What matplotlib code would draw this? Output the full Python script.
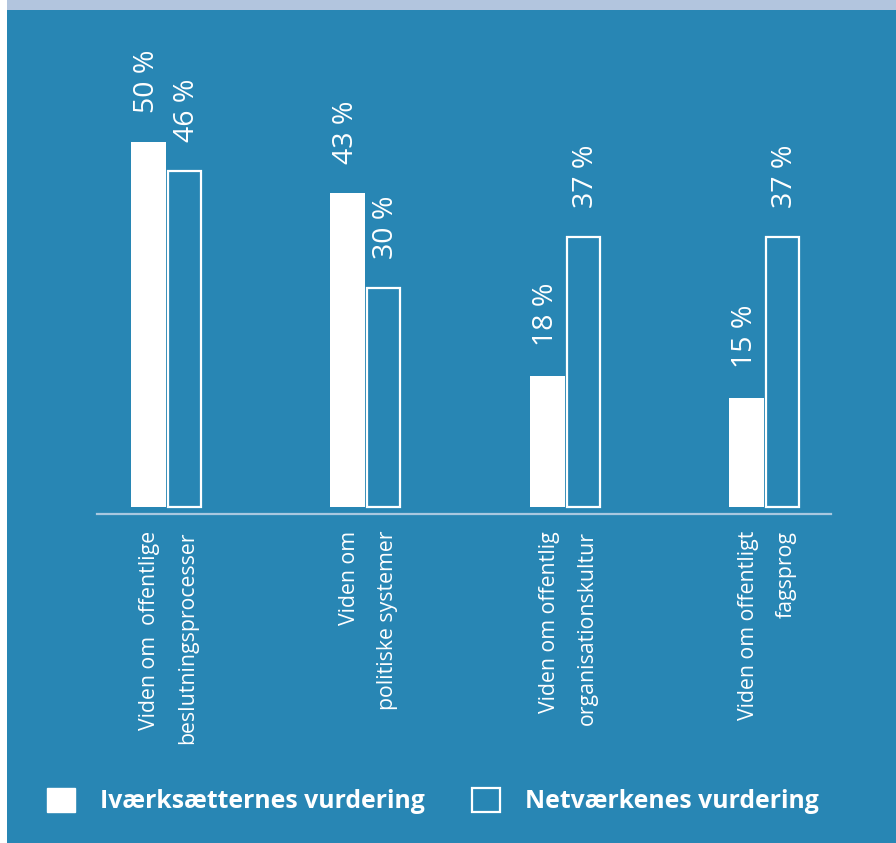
import numpy as np
import matplotlib
matplotlib.use('Agg')
import matplotlib.pyplot as plt
from matplotlib.patches import Rectangle, Patch

# data
categories = [
    ('Viden om  offentlige', 'beslutningsprocesser'),
    ('Viden om', 'politiske systemer'),
    ('Viden om offentlig', 'organisationskultur'),
    ('Viden om offentligt', 'fagsprog'),
]
ivaerksaettere = [50, 43, 18, 15]
netvaerk = [46, 30, 37, 37]
series_names = ['Iværksætternes vurdering', 'Netværkenes vurdering']

BG = '#2886b4'
STRIP = '#b2c5de'
AXIS = '#a9c8e0'
W, H = 896, 843

plt.rcParams['font.family'] = ['Open Sans', 'DejaVu Sans']

fig = plt.figure(figsize=(W / 100, H / 100), dpi=100)
fig.patch.set_facecolor('white')
fig.patches.append(Rectangle((7 / W, 0), 1, 1 - 10 / H, transform=fig.transFigure,
                             facecolor=BG, edgecolor='none', zorder=-2))
fig.patches.append(Rectangle((7 / W, 1 - 10 / H), 1, 10 / H, transform=fig.transFigure,
                             facecolor=STRIP, edgecolor='none', zorder=-2))

# axes placed in pixel terms of the reference
ax_left, ax_right, ax_bottom, ax_top = 97, 831, 514, 20
ax = fig.add_axes([ax_left / W, (H - ax_bottom) / H,
                   (ax_right - ax_left) / W, (ax_bottom - ax_top) / H])
ax.set_facecolor('none')
ax.set_zorder(2)

px_per_pct = 7.3
base_px = 507
ax.set_ylim(-(ax_bottom - base_px) / px_per_pct, (base_px - ax_top) / px_per_pct)
group_px, step_px = 166, 199.5
ax.set_xlim((ax_left - group_px) / step_px, (ax_right - group_px) / step_px)

x = np.arange(len(categories))
w = 35 / step_px
gap = 1 / step_px
ax.bar(x - w / 2 - gap / 2, ivaerksaettere, width=w, color='white', edgecolor='none',
       label=series_names[0])
ax.bar(x + w / 2 + gap / 2, netvaerk, width=w - 2 / step_px, color='none', edgecolor='white',
       linewidth=1.6, label=series_names[1])

for xi, v in zip(x - w / 2 - gap / 2, ivaerksaettere):
    ax.annotate(f'{v} %', xy=(xi, v), xytext=(-1, 21), textcoords='offset points',
                rotation=90, ha='center', va='bottom', color='white', fontsize=20.5)
for xi, v in zip(x + w / 2 + gap / 2, netvaerk):
    ax.annotate(f'{v} %', xy=(xi, v), xytext=(2, 21), textcoords='offset points',
                rotation=90, ha='center', va='bottom', color='white', fontsize=20.5)

lab_y = -(531 - ax_bottom) / (ax_bottom - ax_top)
for xi, (l1, l2) in zip(x, categories):
    ax.text(xi - 16 / step_px, lab_y, l1, transform=ax.get_xaxis_transform(),
            rotation=90, ha='center', va='top', color='white', fontsize=15.3)
    ax.text(xi + 22 / step_px, lab_y, l2, transform=ax.get_xaxis_transform(),
            rotation=90, ha='center', va='top', color='white', fontsize=15.3)

for s in ['top', 'left', 'right']:
    ax.spines[s].set_visible(False)
ax.spines['bottom'].set_color(AXIS)
ax.spines['bottom'].set_linewidth(1.6)
ax.set_xticks([])
ax.set_yticks([])

handles = [Patch(facecolor='white', edgecolor='white'),
           Patch(facecolor='none', edgecolor='white', linewidth=1.6)]
fig.legend(handles, series_names, loc='center left',
           bbox_to_anchor=(47 / W, (H - 801) / H), ncol=2, frameon=False,
           borderpad=0, borderaxespad=0, handlelength=1.15, handleheight=1.15,
           handletextpad=1.0, columnspacing=1.9, labelcolor='white',
           prop={'weight': 'bold', 'size': 17.8})

fig.savefig('out.png', dpi=100, facecolor=fig.get_facecolor())
